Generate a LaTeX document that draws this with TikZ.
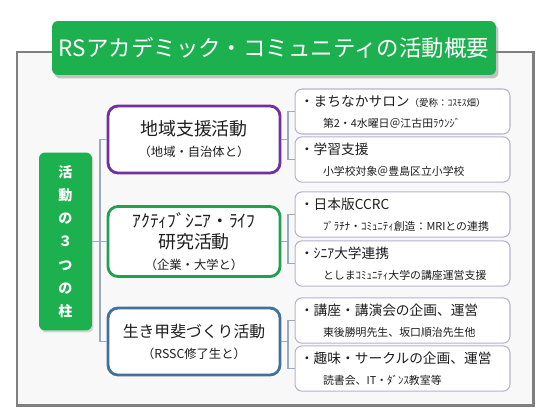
\documentclass[tikz,border=0pt]{standalone}
\usepackage{fontspec}
\setmainfont{Noto Sans CJK JP}
\usetikzlibrary{positioning,shadows}
\definecolor{rsGreen}{HTML}{1DB04F}
\definecolor{rsLeaf}{HTML}{23A04F}
\definecolor{rsPurple}{HTML}{7030A0}
\definecolor{rsBlue}{HTML}{41719C}
\definecolor{frameGray}{HTML}{7F7F7F}
\definecolor{panelBg}{HTML}{F8F8F8}
\definecolor{itemLine}{HTML}{B8B2CC}
\definecolor{linkLine}{HTML}{9AAAC0}
\definecolor{ink}{HTML}{1E1E1E}
\newcommand{\mainline}{\fontsize{7.8}{10}\selectfont}
\newcommand{\subline}{\fontsize{6.2}{8.4}\selectfont}
\newcommand{\noteline}{\fontsize{5.4}{8}\selectfont}

\begin{document}
\begin{tikzpicture}[x=0.02cm,y=-0.02cm,
  titlebox/.style={fill=rsGreen,rounded corners=1.2mm,text=white,minimum width=8.88cm,minimum height=1.08cm,
    drop shadow={shadow xshift=0.05cm,shadow yshift=-0.07cm,opacity=0.45}},
  pillarbox/.style={fill=rsGreen,rounded corners=1.2mm,text=white,minimum width=1.06cm,minimum height=3.56cm,align=center,
    drop shadow={shadow xshift=0.03cm,shadow yshift=-0.04cm,opacity=0.3}},
  areabox/.style={draw,fill=white,line width=1.6pt,rounded corners=2mm,minimum width=3.44cm,minimum height=1.34cm,align=center,text=ink},
  itembox/.style={draw=itemLine,fill=white,line width=0.6pt,rounded corners=1.4mm,text width=4.1cm,inner xsep=0.1cm,
    minimum height=0.9cm,align=left,text=ink},
  link/.style={draw=linkLine,line width=0.6pt}]
  \useasboundingbox (0,0) rectangle (550,413);
  \fill[white] (0,0) rectangle (550,413);
  \draw[frameGray,fill=panelBg,line width=1.7pt] (17,52) rectangle (533,405);

  \node[titlebox,font=\fontsize{12.8}{15}\selectfont] (title) at (274,48) {RSアカデミック・コミュニティの活動概要};

  % pillar and the three areas
  \node[pillarbox,font=\bfseries\fontsize{8}{13.2}\selectfont] (pillar) at (65.5,241.5)
    {活\\動\\の\\３\\つ\\の\\柱};
  \node[areabox,draw=rsPurple] (area) at (194,139.5)
    {\fontsize{10.2}{13}\selectfont 地域支援活動\\\fontsize{7}{9}\selectfont （地域・自治体と）};
  \node[areabox,draw=rsLeaf] (life) at (194,241.5)
    {\fontsize{10}{11.5}\selectfont ｱｸﾃｨﾌﾞｼﾆｱ・ﾗｲﾌ\\\fontsize{10.2}{11.5}\selectfont 研究活動\\\fontsize{7}{10}\selectfont （企業・大学と）};
  \node[areabox,draw=rsBlue] (hobby) at (194,341.5)
    {\fontsize{9}{12}\selectfont 生き甲斐づくり活動\\\fontsize{7}{9}\selectfont （RSSC修了生と）};

  % activities
  \node[itembox] (salon) at (402.5,111.5)
    {\mainline ・まちなかサロン{\noteline （愛称：ｺｽﾓｽ畑）}\\\subline\hspace*{0.46cm}第2・4水曜日＠江古田ﾗｳﾝｼﾞ};
  \node[itembox] (study) at (402.5,159.5)
    {\mainline ・学習支援\\\subline\hspace*{0.46cm}小学校対象＠豊島区立小学校};
  \node[itembox] (ccrc) at (402.5,214.5)
    {\mainline ・日本版CCRC\\\subline\hspace*{0.46cm}ﾌﾟﾗﾁﾅ・ｺﾐｭﾆﾃｨ創造：MRIとの連携};
  \node[itembox] (senior) at (402.5,263.5)
    {\mainline ・ｼﾆｱ大学連携\\\subline\hspace*{0.46cm}としまｺﾐｭﾆﾃｨ大学の講座運営支援};
  \node[itembox] (lecture) at (402.5,320.5)
    {\mainline ・講座・講演会の企画、運営\\\subline\hspace*{0.46cm}東後勝明先生、坂口順治先生他};
  \node[itembox] (circle) at (402.5,368.5)
    {\mainline ・趣味・サークルの企画、運営\\\subline\hspace*{0.46cm}読書会、IT・ﾀﾞﾝｽ教室等};

  % connectors
  \coordinate (spineL) at (100,0);
  \coordinate (spineR) at (288,0);
  \draw[link] (pillar.east) -- (life.west);
  \draw[link] (area.west) -- (area.west -| spineL) -- (hobby.west -| spineL) -- (hobby.west);
  \draw[link] (area.east) -- (area.east -| spineR);
  \draw[link] (salon.west) -- (salon.west -| spineR) -- (study.west -| spineR) -- (study.west);
  \draw[link] (life.east) -- (life.east -| spineR);
  \draw[link] (ccrc.west) -- (ccrc.west -| spineR) -- (senior.west -| spineR) -- (senior.west);
  \draw[link] (hobby.east) -- (hobby.east -| spineR);
  \draw[link] (lecture.west) -- (lecture.west -| spineR) -- (circle.west -| spineR) -- (circle.west);
\end{tikzpicture}
\end{document}
